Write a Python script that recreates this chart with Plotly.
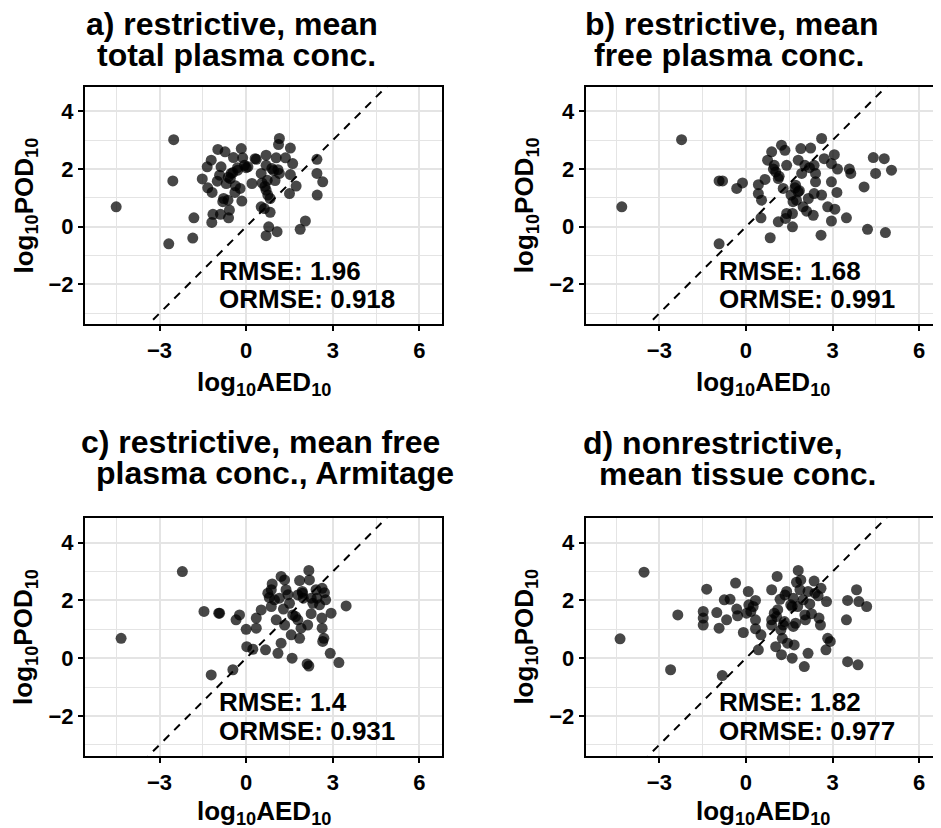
import plotly.graph_objects as go

# The page body has an 8px default margin, so the figure is 8px smaller than
# the window and all reference pixel positions are shifted by OFF.
OFF = 8
W, H = 941 - OFF, 828 - OFF
FONT = "Liberation Sans, Arial, sans-serif"

# ---------------- data ----------------
a_aed = [-4.50, -2.51, -2.54, -2.68, -1.85, -1.81, -1.52, -1.35, -1.21, -0.98, -0.73, -0.87,
         -1.33, -1.18, -1.00, -0.92, -0.78, -0.81, -1.15, -1.19, -0.89, -0.61, -0.58, -0.69,
         -0.55, -0.46, -0.44, -0.37, -0.39, -0.21, -0.15, -0.17, -0.12, -0.06, 0.06, 0.20,
         0.31, 0.35, 0.52, 0.55, 0.69, 0.69, 0.73, 0.69, 0.75, 0.83, 0.52, 0.63, 0.83, 0.78,
         0.69, 1.07, 1.04, 1.15, 1.12, 1.10, 1.15, 1.36, 1.53, 1.61, 1.53, 1.50, 1.73, 1.87,
         2.05, 2.45, 2.45, 2.65, 2.46, 0.89, -0.29, -0.52, -0.62, -0.30, 0.00, 0.95, 1.00,
         0.65, -0.63]
a_pod = [0.69, 3.02, 1.59, -0.59, -0.39, 0.31, 1.66, 2.08, 2.31, 2.68, 2.60, 2.08,
         1.35, 1.19, 1.58, 1.79, 0.98, 0.87, 0.43, 0.15, 0.43, 0.31, 0.58, 1.50,
         1.67, 1.88, 2.40, 1.42, 1.19, 1.33, 0.89, 2.71, 2.39, 2.13, 2.08, 1.50,
         2.36, 2.34, 1.85, 1.52, 2.48, 2.13, 1.61, 1.27, 1.10, 0.98, 0.69, 0.63, 0.50, 0.00,
         -0.31, -0.17, 2.39, 3.06, 2.85, 1.98, 1.85, 2.39, 2.73, 2.19, 1.81, 1.15, 1.41, -0.09,
         0.20, 2.34, 1.85, 1.56, 1.10, 2.02, 1.96, 1.85, 1.72, 2.05, 2.05, 1.95, 1.60,
         1.40, 0.92]

b_aed = [-4.30, -2.23, -0.93, -0.81, -0.93, -0.32, -0.12, 0.43, 0.43, 0.54, 0.52, 0.66,
         0.75, 0.89, 0.98, 1.03, 1.12, 1.23, 1.35, 1.41, 1.29, 1.12, 0.84, 1.41, 1.61, 1.61,
         1.56, 1.63, 1.72, 1.81, 1.81, 1.90, 1.93, 2.04, 1.98, 2.10, 2.16, 2.24, 2.36, 2.41,
         2.41, 2.33, 2.36, 2.62, 2.71, 2.62, 2.60, 2.83, 2.96, 3.06, 2.96, 3.17, 3.08, 2.96,
         3.15, 3.48, 3.58, 3.63, 4.09, 4.21, 4.41, 4.49, 4.79, 4.83, 5.04, 1.37, 1.75,
         0.95, 1.15, 1.70, 1.85, 2.20]
b_pod = [0.69, 3.02, 1.59, 1.59, -0.59, 1.33, 1.52, 1.46, 1.15, 0.92, 0.31, 1.64,
         2.31, 2.60, 2.13, 1.90, 1.67, 2.83, 2.65, 2.13, 1.33, 0.17, -0.38, 0.46, 0.00, 0.46,
         1.10, 0.87, 1.44, 1.21, 2.31, 2.71, 1.85, 2.13, 0.69, 0.54, 0.98, 2.73, 2.13, 1.85,
         1.56, 0.40, 1.15, 3.06, 2.36, 1.10, -0.29, 0.69, 1.56, 2.50, 2.19, 2.00, 0.61, 0.20,
         1.19, 0.31, 2.00, 1.85, 1.38, -0.09, 2.40, 1.85, 2.36, -0.20, 1.96, 0.29, 0.92,
         2.00, 1.75, 1.35, 1.25, 2.05]

c_aed = [-4.33, -2.21, -1.46, -0.95, -0.92, -1.21, -0.46, -0.35, -0.23, 0.00, 0.02, 0.23,
         0.35, 0.35, 0.52, 0.67, 0.75, 0.90, 0.87, 1.04, 1.10, 1.21, 1.21, 1.33, 1.15, 1.29,
         1.38, 1.50, 1.33, 1.56, 1.59, 1.61, 1.71, 1.79, 1.85, 1.85, 1.90, 1.94, 1.98, 2.13,
         2.17, 2.19, 2.25, 2.31, 2.25, 2.11, 2.17, 2.45, 2.54, 2.63, 2.71, 2.75, 2.62, 2.63,
         2.69, 2.65, 2.94, 2.91, 3.21, 3.46, 0.87, 0.98, 1.79, 2.42, 0.80, 1.45, 1.95]
c_pod = [0.69, 3.00, 1.62, 1.56, 1.56, -0.58, -0.40, 1.33, 1.50, 1.00, 0.40, 0.31,
         1.04, 1.39, 1.67, 0.29, 2.25, 2.57, 1.79, 1.33, 0.17, 0.52, 2.83, 2.71, 2.08, 1.70,
         2.37, 1.90, 1.15, 0.81, 0.00, 1.50, 1.44, 1.33, 2.69, 0.69, 1.04, 2.31, 2.08, 1.15,
         3.04, 2.71, 2.08, 1.90, 1.54, -0.20, -0.27, 2.08, 1.85, 2.42, 2.27, 2.02, 1.39, 1.04,
         0.69, 0.58, 1.56, 0.17, -0.15, 1.81, 2.37, 2.02, 2.19, 2.37, 2.10, 2.20, 2.25]

d_aed = [-4.36, -3.53, -2.36, -2.61, -1.48, -1.48, -1.48, -1.36, -1.01, -0.93, -0.82, -0.75,
         -0.67, -0.55, -0.36, -0.32, -0.29, -0.09, 0.08, 0.10, 0.17, 0.25, 0.33, 0.33, 0.33,
         0.43, 0.52, 0.89, 0.89, 0.89, 0.98, 1.08, 1.03, 1.06, 1.10, 1.18, 1.21, 1.23, 1.26,
         1.29, 1.33, 1.35, 1.41, 1.44, 1.55, 1.60, 1.60, 1.64, 1.67, 1.64, 1.72, 1.75, 1.81,
         1.87, 1.90, 1.98, 2.04, 2.06, 2.02, 2.15, 2.15, 2.21, 2.27, 2.36, 2.39, 2.50, 2.60,
         2.53, 2.58, 2.79, 2.77, 2.83, 2.92, 3.48, 3.52, 3.52, 3.83, 3.91, 3.88, 4.18, 0.02, 1.79]
d_pod = [0.67, 2.98, 1.50, -0.40, 1.62, 1.39, 1.15, 2.39, 1.58, 1.04, -0.60, 2.02,
         1.33, 2.04, 2.60, 1.70, 1.47, 0.89, 2.31, 1.85, 1.62, 1.79, 2.00, 1.33, 1.02,
         0.29, 0.81, 2.37, 1.33, 1.15, 1.56, 2.83, 0.40, 1.44, 1.68, 2.04, 0.98, 0.12, 0.69,
         1.15, 1.27, 2.19, 2.31, 0.52, 1.85, 1.79, 0.00, 1.10, 0.46, 2.08, 1.21, 2.63, 3.04,
         2.37, 2.71, 2.02, 1.50, 1.33, -0.29, 0.17, 2.31, 1.88, 1.54, 2.67, 2.25, 2.16, 2.42,
         1.39, 1.15, 1.96, 0.29, 0.69, 0.58, 1.33, 2.00, -0.12, 2.37, 1.96, -0.23, 1.79, 1.56, 1.79]

title_line1 = ["a) restrictive, mean", "b) restrictive, mean",
               "c) restrictive, mean free", "d) nonrestrictive,"]
title_line2 = ["total plasma conc.", "free plasma conc.",
               "plasma conc., Armitage", "mean tissue conc."]
rmse_vals = ["1.96", "1.68", "1.4", "1.82"]
ormse_vals = ["0.918", "0.991", "0.931", "0.977"]

x_tickvals = [-3, 0, 3, 6]
x_ticktext = ["\u22123", "0", "3", "6"]
x_minor = [-4.5, -1.5, 1.5, 4.5]
y_tickvals = [-2, 0, 2, 4]
y_ticktext = ["\u22122", "0", "2", "4"]
y_minor = [-3, -1, 1, 3]
identity_line = [-8, 9]

# ---------------- layout geometry (window pixels) ----------------
panels = [
    dict(x0=85, x1=442, y0=87, y1=324, xr=[-5.58, 6.78], xt=60),
    dict(x0=585.7, x1=940, y0=87, y1=324, xr=[-5.55, 6.72], xt=60),
    dict(x0=85, x1=442, y0=518.3, y1=755.5, xr=[-5.58, 6.78], xt=57),
    dict(x0=585.7, x1=940, y0=518.3, y1=755.5, xr=[-5.55, 6.72], xt=57),
]
yr = [-3.37, 4.845]
title_pos = [  # (line1 cx, line2 cx, line1 cy, line2 cy)
    (231.5, 236.5, 24.0, 55.0),
    (731.7, 729.0, 24.0, 55.0),
    (261.0, 275.0, 441.5, 473.0),
    (713.0, 737.5, 443.0, 474.5),
]


def px(x):
    return (x - OFF) / W


def py(y):
    return 1 - (y - OFF) / H


data_x = [a_aed, b_aed, c_aed, d_aed]
data_y = [a_pod, b_pod, c_pod, d_pod]

fig = go.Figure()
grid_col = "#e4e4e4"
tickfont = dict(family=FONT, size=22, color="black", weight="bold")
annotations = []

for i, p in enumerate(panels):
    n = i + 1
    xa = "x" if n == 1 else f"x{n}"
    ya = "y" if n == 1 else f"y{n}"
    fig.add_trace(go.Scatter(x=identity_line, y=identity_line, mode="lines",
                             line=dict(color="black", width=2, dash="8px,7px"),
                             xaxis=xa, yaxis=ya, showlegend=False, hoverinfo="skip"))
    fig.add_trace(go.Scatter(x=data_x[i], y=data_y[i], mode="markers",
                             marker=dict(size=11, color="rgba(0,0,0,0.72)", line=dict(width=0)),
                             xaxis=xa, yaxis=ya, showlegend=False))
    xkey = "xaxis" if n == 1 else f"xaxis{n}"
    ykey = "yaxis" if n == 1 else f"yaxis{n}"
    common = dict(showgrid=True, gridcolor=grid_col, gridwidth=1.7, zeroline=False,
                  showline=True, linecolor="black", linewidth=2, mirror=True,
                  ticks="outside", ticklen=5, tickwidth=2, tickcolor="black",
                  tickfont=tickfont, automargin=False, fixedrange=True)
    fig.update_layout(**{
        xkey: dict(domain=[px(p["x0"]), px(p["x1"])], range=p["xr"], anchor=ya,
                   tickmode="array", tickvals=x_tickvals, ticktext=x_ticktext,
                   ticklabelstandoff=1,
                   minor=dict(tickmode="array", tickvals=x_minor, showgrid=True,
                              gridcolor=grid_col, gridwidth=1, ticks=""),
                   **common),
        ykey: dict(domain=[py(p["y1"]), py(p["y0"])], range=yr, anchor=xa,
                   tickmode="array", tickvals=y_tickvals, ticktext=y_ticktext,
                   minor=dict(tickmode="array", tickvals=y_minor, showgrid=True,
                              gridcolor=grid_col, gridwidth=1, ticks=""),
                   **common),
    })
    # titles
    t1x, t2x, t1y, t2y = title_pos[i]
    tf = dict(family=FONT, size=32, color="black", weight="bold")
    annotations.append(dict(text=title_line1[i], x=px(t1x), y=py(t1y), xref="paper", yref="paper",
                            xanchor="center", yanchor="middle", showarrow=False, font=tf))
    annotations.append(dict(text=title_line2[i], x=px(t2x), y=py(t2y), xref="paper", yref="paper",
                            xanchor="center", yanchor="middle", showarrow=False, font=tf))
    # axis titles
    af = dict(family=FONT, size=26, color="black", weight="bold")
    cx = (p["x0"] + p["x1"]) / 2
    annotations.append(dict(text="log<sub>10</sub>AED<sub>10</sub>", x=px(cx), y=py(p["y1"] + p["xt"]),
                            xref="paper", yref="paper", xanchor="center", yanchor="middle",
                            showarrow=False, font=af))
    cy = (p["y0"] + p["y1"]) / 2
    annotations.append(dict(text="log<sub>10</sub>POD<sub>10</sub>", x=px(p["x0"] - 60), y=py(cy),
                            xref="paper", yref="paper", xanchor="center", yanchor="middle",
                            textangle=-90, showarrow=False, font=af))
    # stats
    sf = dict(family=FONT, size=26, color="black", weight="bold")
    annotations.append(dict(text=f"RMSE: {rmse_vals[i]}", x=-1.02, y=-1.52, xref=xa, yref=ya,
                            xanchor="left", yanchor="middle", showarrow=False, font=sf))
    annotations.append(dict(text=f"ORMSE: {ormse_vals[i]}", x=-1.02, y=-2.52, xref=xa, yref=ya,
                            xanchor="left", yanchor="middle", showarrow=False, font=sf))

fig.update_layout(width=W, height=H, margin=dict(l=0, r=0, t=0, b=0),
                  paper_bgcolor="white", plot_bgcolor="white",
                  annotations=annotations, showlegend=False)

fig.write_html("out.html")
